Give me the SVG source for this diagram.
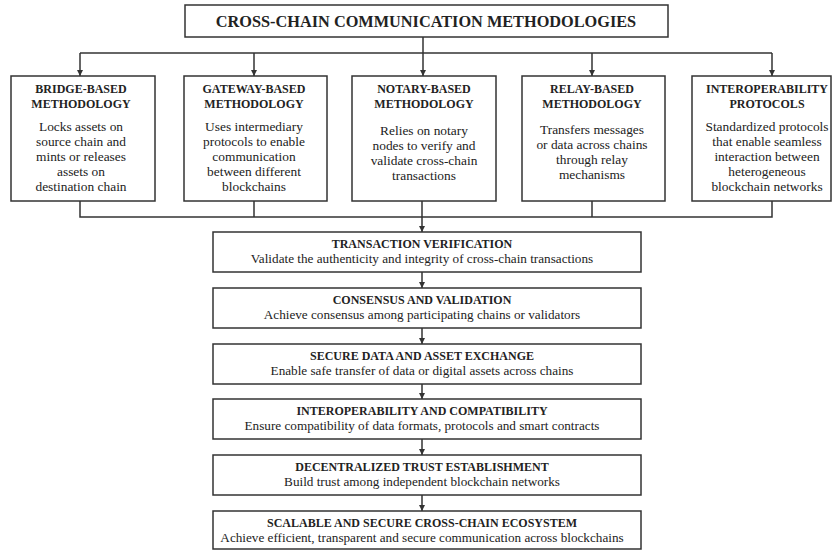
<svg xmlns="http://www.w3.org/2000/svg" width="832" height="550" viewBox="0 0 832 550">
  <style>
    .box { fill: #ffffff; stroke: #333333; stroke-width: 1.5; }
    .wire { fill: none; stroke: #333333; stroke-width: 1.5; }
    .title { font-family: "Liberation Serif", "Times New Roman", serif; font-weight: bold; font-size: 16.3px; fill: #222222; text-anchor: middle; }
    .head { font-family: "Liberation Serif", "Times New Roman", serif; font-weight: bold; font-size: 12px; fill: #222222; text-anchor: middle; }
    .body { font-family: "Liberation Serif", "Times New Roman", serif; font-size: 13.4px; fill: #222222; text-anchor: middle; }
    .sub { font-family: "Liberation Serif", "Times New Roman", serif; font-size: 13.2px; fill: #222222; text-anchor: middle; }
  </style>
  <defs>
    <marker id="arrow" viewBox="0 0 10 10" refX="10" refY="5" markerWidth="7" markerHeight="6" markerUnits="userSpaceOnUse" orient="auto">
      <path d="M0,0 L10,5 L0,10 z" fill="#333333"/>
    </marker>
  </defs>
  <rect width="832" height="550" fill="#ffffff"/>

  <!-- connectors -->
  <g id="connectors">
    <!-- title fan-out -->
    <path class="wire" d="M423,37 V53"/>
    <path class="wire" d="M80,53 H772"/>
    <path class="wire" d="M80,53 V76" marker-end="url(#arrow)"/>
    <path class="wire" d="M254,53 V76" marker-end="url(#arrow)"/>
    <path class="wire" d="M423,53 V76" marker-end="url(#arrow)"/>
    <path class="wire" d="M592,53 V76" marker-end="url(#arrow)"/>
    <path class="wire" d="M772,53 V76" marker-end="url(#arrow)"/>
    <!-- methodology merge -->
    <path class="wire" d="M80,201 V217 H772 V201"/>
    <path class="wire" d="M254,201 V217"/>
    <path class="wire" d="M592,201 V217"/>
    <path class="wire" d="M422,201 V232" marker-end="url(#arrow)"/>
    <!-- vertical flow -->
    <path class="wire" d="M422,272 V288" marker-end="url(#arrow)"/>
    <path class="wire" d="M422,328 V344" marker-end="url(#arrow)"/>
    <path class="wire" d="M422,384 V399" marker-end="url(#arrow)"/>
    <path class="wire" d="M422,439 V455" marker-end="url(#arrow)"/>
    <path class="wire" d="M422,495 V511" marker-end="url(#arrow)"/>
  </g>

  <g id="title">
    <rect class="box" x="185" y="5" width="483" height="32"/>
    <text class="title" x="426" y="27">CROSS-CHAIN COMMUNICATION METHODOLOGIES</text>
  </g>

  <g id="bridge">
    <rect class="box" x="11" y="76" width="144" height="125"/>
    <text class="head" x="81" y="93">BRIDGE-BASED</text>
    <text class="head" x="81" y="108">METHODOLOGY</text>
    <text class="body" x="81" y="130.5">Locks assets on</text>
    <text class="body" x="81" y="145.5">source chain and</text>
    <text class="body" x="81" y="160.5">mints or releases</text>
    <text class="body" x="81" y="175.5">assets on</text>
    <text class="body" x="81" y="190.5">destination chain</text>
  </g>

  <g id="gateway">
    <rect class="box" x="184" y="76" width="143" height="125"/>
    <text class="head" x="254" y="93">GATEWAY-BASED</text>
    <text class="head" x="254" y="108">METHODOLOGY</text>
    <text class="body" x="254" y="130.5">Uses intermediary</text>
    <text class="body" x="254" y="145.5">protocols to enable</text>
    <text class="body" x="254" y="160.5">communication</text>
    <text class="body" x="254" y="175.5">between different</text>
    <text class="body" x="254" y="190.5">blockchains</text>
  </g>

  <g id="notary">
    <rect class="box" x="352" y="76" width="144" height="125"/>
    <text class="head" x="424" y="93">NOTARY-BASED</text>
    <text class="head" x="424" y="108">METHODOLOGY</text>
    <text class="body" x="424" y="135">Relies on notary</text>
    <text class="body" x="424" y="150">nodes to verify and</text>
    <text class="body" x="424" y="165">validate cross-chain</text>
    <text class="body" x="424" y="180">transactions</text>
  </g>

  <g id="relay">
    <rect class="box" x="522" y="76" width="143" height="125"/>
    <text class="head" x="592" y="93">RELAY-BASED</text>
    <text class="head" x="592" y="108">METHODOLOGY</text>
    <text class="body" x="592" y="134">Transfers messages</text>
    <text class="body" x="592" y="149">or data across chains</text>
    <text class="body" x="592" y="164">through relay</text>
    <text class="body" x="592" y="179">mechanisms</text>
  </g>

  <g id="interop">
    <rect class="box" x="692" y="76" width="139" height="125"/>
    <text class="head" x="767" y="93">INTEROPERABILITY</text>
    <text class="head" x="767" y="108">PROTOCOLS</text>
    <text class="body" x="767" y="130.5">Standardized protocols</text>
    <text class="body" x="767" y="145.5">that enable seamless</text>
    <text class="body" x="767" y="160.5">interaction between</text>
    <text class="body" x="767" y="175.5">heterogeneous</text>
    <text class="body" x="767" y="190.5">blockchain networks</text>
  </g>

  <g id="verification">
    <rect class="box" x="213" y="232" width="428" height="40"/>
    <text class="head" x="422" y="247.5">TRANSACTION VERIFICATION</text>
    <text class="sub" x="422" y="263">Validate the authenticity and integrity of cross-chain transactions</text>
  </g>

  <g id="consensus">
    <rect class="box" x="213" y="288" width="428" height="40"/>
    <text class="head" x="422" y="303.5">CONSENSUS AND VALIDATION</text>
    <text class="sub" x="422" y="319">Achieve consensus among participating chains or validators</text>
  </g>

  <g id="exchange">
    <rect class="box" x="213" y="344" width="428" height="40"/>
    <text class="head" x="422" y="359.5">SECURE DATA AND ASSET EXCHANGE</text>
    <text class="sub" x="422" y="375">Enable safe transfer of data or digital assets across chains</text>
  </g>

  <g id="compatibility">
    <rect class="box" x="213" y="399" width="428" height="40"/>
    <text class="head" x="422" y="414.5">INTEROPERABILITY AND COMPATIBILITY</text>
    <text class="sub" x="422" y="430">Ensure compatibility of data formats, protocols and smart contracts</text>
  </g>

  <g id="trust">
    <rect class="box" x="213" y="455" width="428" height="40"/>
    <text class="head" x="422" y="470.5">DECENTRALIZED TRUST ESTABLISHMENT</text>
    <text class="sub" x="422" y="486">Build trust among independent blockchain networks</text>
  </g>

  <g id="ecosystem">
    <rect class="box" x="213" y="511" width="428" height="38"/>
    <text class="head" x="422" y="526.5">SCALABLE AND SECURE CROSS-CHAIN ECOSYSTEM</text>
    <text class="sub" x="422" y="542">Achieve efficient, transparent and secure communication across blockchains</text>
  </g>
</svg>
